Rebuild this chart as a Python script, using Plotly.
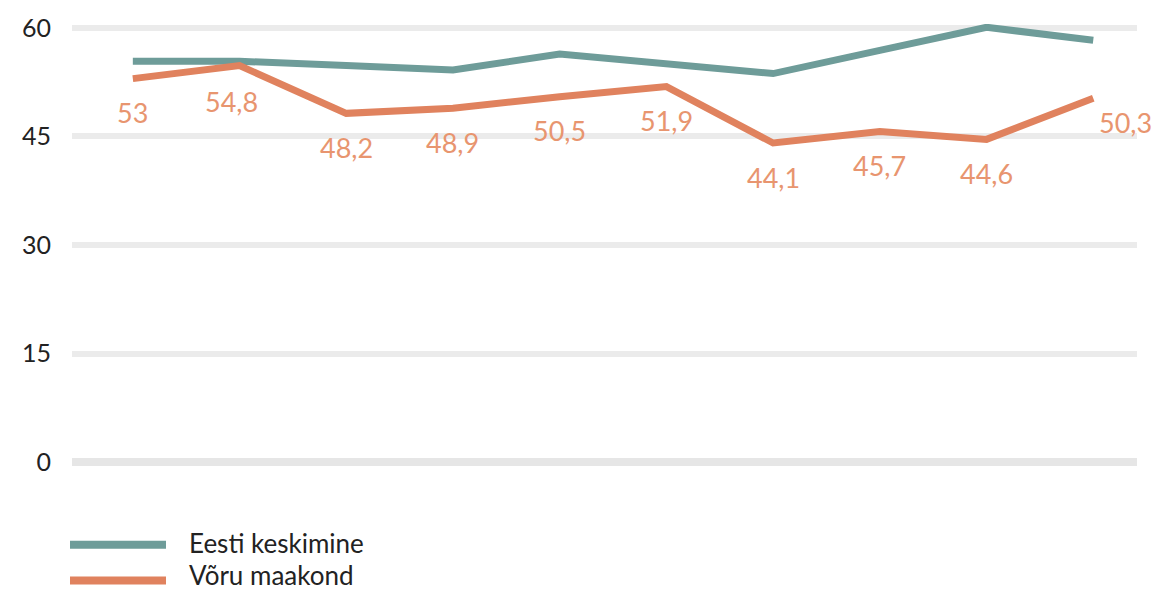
import plotly.graph_objects as go

# Ten consecutive periods (no axis labels are shown)
periods = list(range(10))

eesti_keskmine = [55.4, 55.4, 54.8, 54.2, 56.4, 55.0, 53.7, 56.9, 60.1, 58.3]
voru_maakond = [53.0, 54.8, 48.2, 48.9, 50.5, 51.9, 44.1, 45.7, 44.6, 50.3]

y_ticks = [0, 15, 30, 45, 60]

TEAL = "#6e9c99"
ORANGE = "#e0825e"
LABEL_ORANGE = "#e8956f"
FONT = "Lato, 'Open Sans', sans-serif"

# plot area in pixels
PL, PR, PT, PB = 72, 1137, 22, 466
PW, PH = PR - PL, PB - PT

fig = go.Figure()

fig.add_trace(go.Scatter(
    x=periods, y=eesti_keskmine, mode="lines",
    line=dict(color=TEAL, width=7), showlegend=False, hoverinfo="skip",
))
fig.add_trace(go.Scatter(
    x=periods, y=voru_maakond, mode="lines",
    line=dict(color=ORANGE, width=7), showlegend=False, hoverinfo="skip",
))

# value labels for the county series, sitting under each point
nudges = {1: (-8, -36), 9: (32, -24)}
for i, (xv, yv) in enumerate(zip(periods, voru_maakond)):
    dx, dy = nudges.get(i, (0, -34))
    fig.add_annotation(
        x=xv, y=yv, text=f"{yv:.1f}".replace(".", ",").replace(",0", ""),
        showarrow=False, xshift=dx, yshift=dy,
        font=dict(family=FONT, size=27, color=LABEL_ORANGE),
    )

# legend drawn below the plot: (line row, text row) in pixels
legend_items = [("Eesti keskimine", TEAL), ("Võru maakond", ORANGE)]
legend_rows = [(545, 543), (581, 575)]
for (name, color), (ly, ty) in zip(legend_items, legend_rows):
    fig.add_shape(type="line", xref="paper", yref="paper",
                  x0=(70 - PL) / PW, x1=(166 - PL) / PW,
                  y0=(PB - ly) / PH, y1=(PB - ly) / PH,
                  line=dict(color=color, width=8))
    fig.add_annotation(xref="paper", yref="paper",
                       x=(188 - PL) / PW, y=(PB - ty) / PH,
                       xanchor="left", yanchor="middle", borderpad=0,
                       text=name, showarrow=False,
                       font=dict(family=FONT, size=26, color="#222222"))

fig.update_layout(
    width=1157, height=594,
    margin=dict(l=PL, r=1157 - PR, t=PT, b=594 - PB),
    paper_bgcolor="white", plot_bgcolor="white",
    font=dict(family=FONT, color="#222222"),
    xaxis=dict(range=[-0.57, 9.41], showgrid=False, showticklabels=False,
               zeroline=False, showline=False),
    yaxis=dict(range=[-0.55, 60.55], tickvals=y_ticks, showgrid=True,
               gridcolor="#ebebeb", gridwidth=6,
               zeroline=True, zerolinecolor="#e6e6e6", zerolinewidth=8,
               showline=False, ticklabelstandoff=20,
               tickfont=dict(family=FONT, size=25, color="#222222")),
    # thin darker edge under each grid band
    yaxis2=dict(range=[-0.15, 60.95], overlaying="y", anchor="x",
                tickvals=y_ticks, showticklabels=False, showgrid=True,
                gridcolor="#d9d9d9", gridwidth=1, zeroline=False, showline=False),
)

fig.write_html("out.html")
